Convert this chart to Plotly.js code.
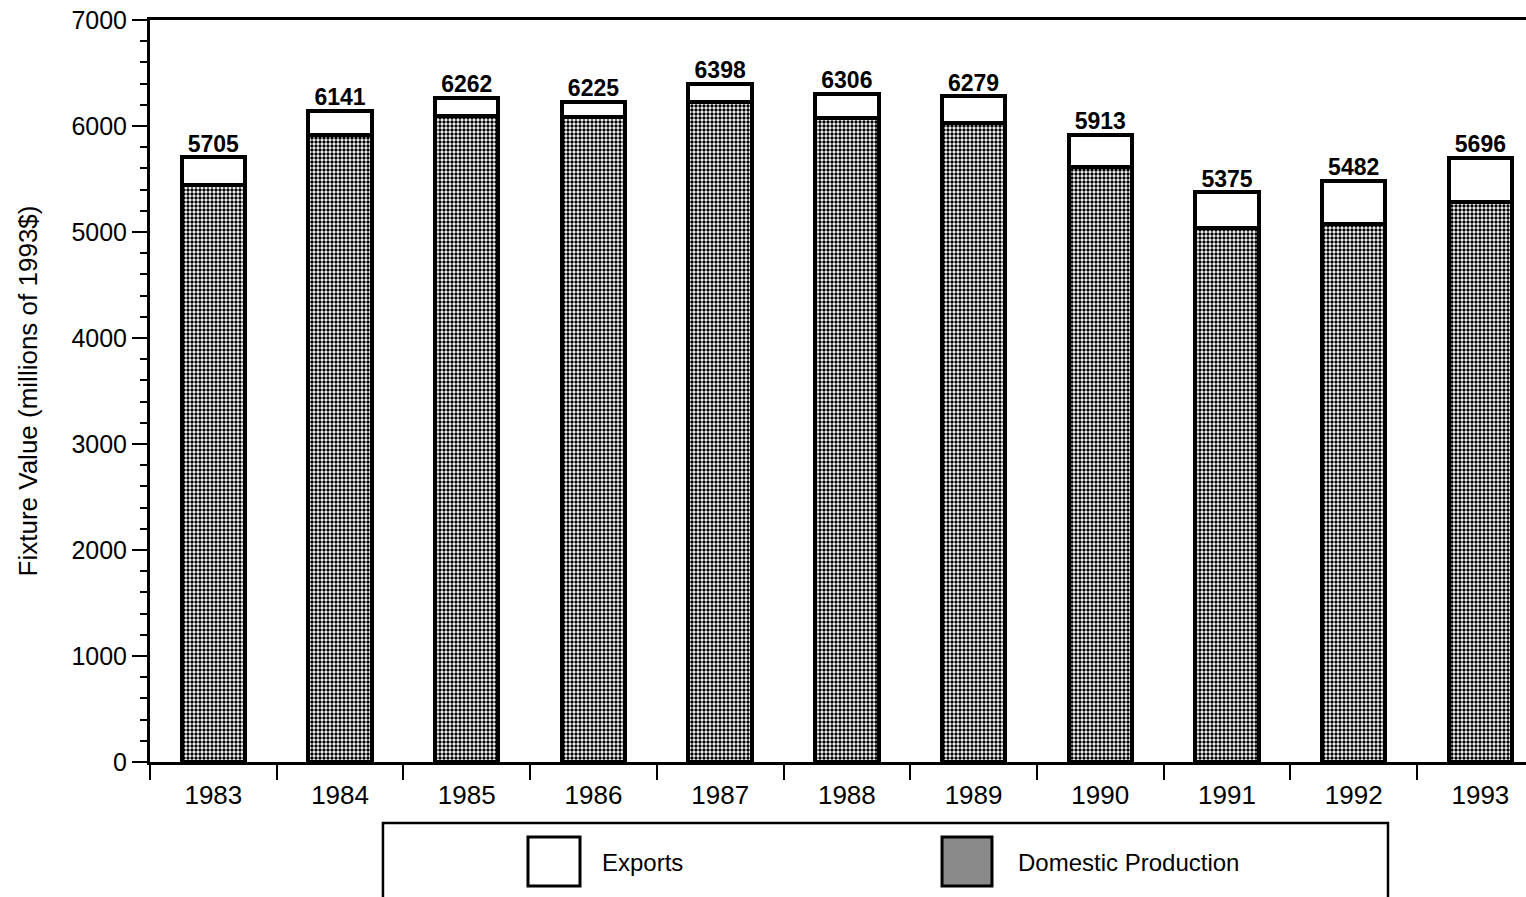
<!DOCTYPE html>
<html>
<head>
<meta charset="utf-8">
<script src="https://cdn.plot.ly/plotly-3.0.1.min.js"></script>
<style>html,body{margin:0;padding:0;background:#fff;}#chart{width:1526px;height:897px;}</style>
</head>
<body>
<div id="chart"></div>
<script>
const years = ['1983','1984','1985','1986','1987','1988','1989','1990','1991','1992','1993'];
const domestic = [5440, 5914, 6092, 6083, 6228, 6079, 6024, 5611, 5035, 5076, 5281];
const exportsVal = [265, 227, 170, 142, 170, 227, 255, 302, 340, 406, 415];
const totals = [5705, 6141, 6262, 6225, 6398, 6306, 6279, 5913, 5375, 5482, 5696];
const legendLabels = ['Exports', 'Domestic Production'];

const FONT = 'Liberation Sans, Arial, Helvetica, sans-serif';
const GRAYPAT = {shape: '.', size: 4, solidity: 0.55, fgcolor: '#000000', bgcolor: '#ffffff'};

const traces = [
  {
    type: 'bar', x: years, y: domestic, name: legendLabels[1],
    marker: {color: '#ffffff', pattern: GRAYPAT, line: {color: '#000', width: 4}},
    width: 0.5, hoverinfo: 'x+y'
  },
  {
    type: 'bar', x: years, y: exportsVal, name: legendLabels[0],
    marker: {color: '#ffffff', line: {color: '#000', width: 4}},
    width: 0.5, hoverinfo: 'x+y'
  },
  {
    type: 'scatter', mode: 'text', x: years, y: totals,
    text: totals.map(String), textposition: 'top center',
    textfont: {family: FONT, size: 23, color: '#000', weight: 'bold'},
    hoverinfo: 'skip', showlegend: false, cliponaxis: false
  }
];

// legend drawn in paper coordinates (box, swatches, labels)
const lx0 = 0.1693, lx1 = 0.8997, ly0 = -0.0822, ly1 = -0.20;
const sw = [[0.2747, 0.3125], [0.5756, 0.6119]];
const sy0 = -0.1011, sy1 = -0.1671;

const layout = {
  width: 1526, height: 897,
  margin: {l: 150, r: 0, t: 20, b: 135, pad: 0},
  paper_bgcolor: '#fff', plot_bgcolor: '#fff',
  barmode: 'stack',
  showlegend: false,
  font: {family: FONT, color: '#000'},
  xaxis: {
    type: 'category', range: [-0.5, 10.36],
    showline: true, linecolor: '#000', linewidth: 3, mirror: true,
    ticks: 'outside', tickson: 'boundaries', ticklen: 15, tickwidth: 2, tickcolor: '#000',
    ticklabelstandoff: 8,
    tickfont: {family: FONT, size: 26, color: '#000'},
    showgrid: false, zeroline: false, fixedrange: true
  },
  yaxis: {
    range: [0, 7000], dtick: 1000, tick0: 0,
    showline: true, linecolor: '#000', linewidth: 3,
    ticks: 'outside', ticklen: 15, tickwidth: 2, tickcolor: '#000',
    minor: {dtick: 200, ticks: 'outside', ticklen: 7, tickwidth: 2, tickcolor: '#000', showgrid: false},
    tickfont: {family: FONT, size: 25, color: '#000'},
    automargin: true,
    title: {text: 'Fixture Value (millions of 1993$)', font: {family: FONT, size: 26, color: '#000'}, standoff: 27},
    showgrid: false, zeroline: false, fixedrange: true
  },
  shapes: [
    {type: 'rect', xref: 'paper', yref: 'paper', x0: lx0, x1: lx1, y0: ly0, y1: ly1,
     line: {color: '#000', width: 2.5}, fillcolor: '#fff', layer: 'above'},
    {type: 'rect', xref: 'paper', yref: 'paper', x0: sw[0][0], x1: sw[0][1], y0: sy0, y1: sy1,
     line: {color: '#000', width: 3}, fillcolor: '#fff', layer: 'above'},
    {type: 'rect', xref: 'paper', yref: 'paper', x0: sw[1][0], x1: sw[1][1], y0: sy0, y1: sy1,
     line: {color: '#000', width: 3}, fillcolor: '#8a8a8a', layer: 'above'}
  ],
  annotations: [
    {xref: 'paper', yref: 'paper', x: 0.327, y: -0.1348, xanchor: 'left', yanchor: 'middle',
     text: legendLabels[0], showarrow: false, font: {family: FONT, size: 24, color: '#000'}},
    {xref: 'paper', yref: 'paper', x: 0.6294, y: -0.1348, xanchor: 'left', yanchor: 'middle',
     text: legendLabels[1], showarrow: false, font: {family: FONT, size: 24, color: '#000'}}
  ]
};

Plotly.newPlot('chart', traces, layout, {displayModeBar: false, staticPlot: true});
</script>
</body>
</html>
